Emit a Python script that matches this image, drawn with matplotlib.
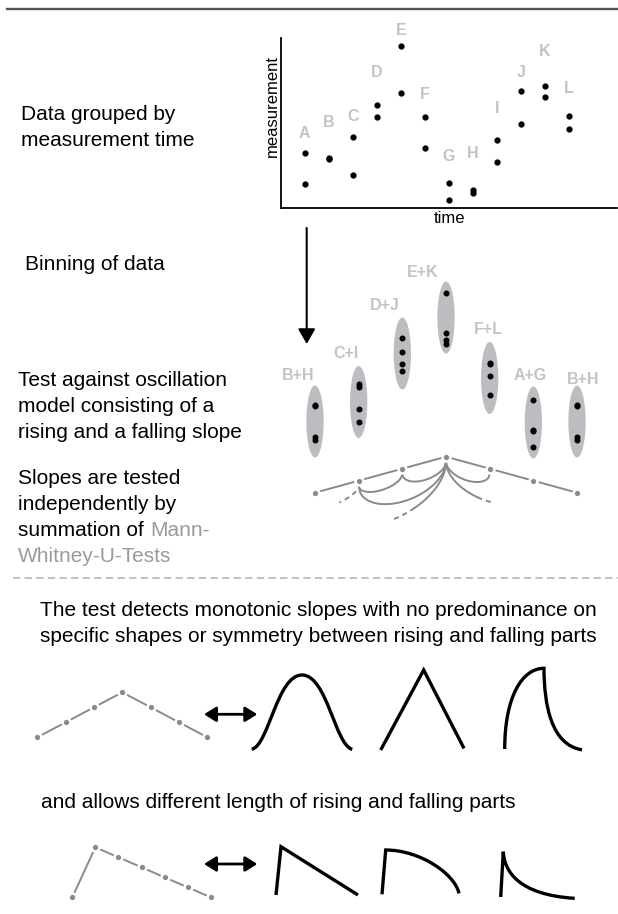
import numpy as np
import matplotlib
matplotlib.use('Agg')
from matplotlib import pyplot as plt
from matplotlib.patches import Ellipse, PathPatch
from matplotlib.path import Path

plt.rcParams['font.family'] = ['Liberation Sans', 'DejaVu Sans']

# ---- data -------------------------------------------------------------
times = ['A', 'B', 'C', 'D', 'E', 'F', 'G', 'H', 'I', 'J', 'K', 'L']
rep1 = [55, 50, 71, 103, 162, 91, 25, 18, 68, 117, 122, 92]
rep2 = [24, 49, 33, 91, 115, 60, 8, 15, 46, 84, 111, 79]
letter_y = [75, 86, 92, 136, 178, 114, 52, 55, 100, 136, 157, 120]

bin_names = ['B+H', 'C+I', 'D+J', 'E+K', 'F+L', 'A+G', 'B+H']
bin_pairs = [(1, 7), (2, 8), (3, 9), (4, 10), (5, 11), (0, 6), (1, 7)]
label_dx = [-17, -13, -18, -23, -1, -3, 6]      # px, label offset
label_dy = [10, 12, 12, 9, 13, 11.5, 6.5]

model_level = [0, 1, 2, 3, 2, 1, 0]
skew_level = [0, 5, 4, 3, 2, 1, 0]

# pairwise comparisons (from, to, sag px, pieces)
arcs = [
    (1, 2, 10.7, [(0, 1, '-')]),
    (2, 3, 12.5, [(0, 1, '-')]),
    (1, 3, 28, [(0, 1, '-')]),
    (3, 4, 13, [(0, 1, '-')]),
    (3, 0, 44, [(0, 0.24, '-'), (0.24, 0.42, '--')]),
    (3, 5, 28, [(0, 0.36, '-'), (0.36, 0.52, '--')]),
    (1, -1, 14, [(0.03, 0.22, '--')]),
]

# shapes (normalised 0..1 boxes)
shape_gauss = ([(0, 0), (0.17, 0.05), (0.25, 1), (0.5, 1), (0.75, 1), (0.83, 0.05), (1, 0)],
               [1, 4, 4, 4, 4, 4, 4])
shape_tri = ([(0, 0), (0.516, 1), (1, 0.02)], [1, 2, 2])
shape_fast = ([(0, 0), (0, 0.65), (0.228, 1), (0.508, 1), (0.51, 0.55), (0.6, 0.05), (1, -0.01)],
              [1, 4, 4, 4, 4, 4, 4])
shape_lin = ([(0, 0), (0.061, 1), (1, 0)], [1, 2, 2])
shape_round = ([(0, 0), (0.048, 1), (0.5, 1), (0.95, 0.45), (1, 0.02)], [1, 2, 4, 4, 4])
shape_decay = ([(0, 0), (0.035, 1), (0.05, 0.55), (0.25, 0.05), (1, -0.03)], [1, 2, 4, 4, 4])

W, H = 618, 914
gray_lab = '#c3c3c3'
gray_line = '#8a8a8a'
ell_col = '#bcbdc0'

fig = plt.figure(figsize=(W / 100, H / 100), dpi=100)
ax = fig.add_axes([0, 0, 1, 1])
ax.set_xlim(0, W)
ax.set_ylim(H, 0)
ax.axis('off')


def box_axes(x0, y0, x1, y1, xlim=(0, 1), ylim=(0, 1)):
    a = fig.add_axes([x0 / W, 1 - y1 / H, (x1 - x0) / W, (y1 - y0) / H])
    a.set_xlim(*xlim)
    a.set_ylim(*ylim)
    a.axis('off')
    return a


# top rule and separator
ax.plot([7, 618], [8.7, 8.7], color='#555555', lw=1.7)
ax.plot([13, 618], [578, 578], color='#b0b0b0', lw=1.1, dashes=(4.8, 2.8))

# left texts
txt = dict(fontsize=15, va='baseline', ha='left', color='black')
ax.text(20.7, 120.2, 'Data grouped by', **txt)
ax.text(20.7, 145.5, 'measurement time', **txt)
ax.text(25, 269.5, 'Binning of data', **txt)
ax.text(18.3, 385.7, 'Test against oscillation', **txt)
ax.text(18.3, 412.3, 'model consisting of a', **txt)
ax.text(18.3, 437.8, 'rising and a falling slope', **txt)
ax.text(18.3, 484, 'Slopes are tested', **txt)
ax.text(18.3, 510, 'independently by', **txt)
t = ax.text(18.3, 535.7, 'summation of', **txt)
ax.annotate('Mann-', xy=(1, 0), xycoords=t, xytext=(4.2, 0), textcoords='offset points',
            fontsize=15, va='bottom', ha='left', color='#9a9a9a')
ax.text(18.3, 562.3, 'Whitney-U-Tests', fontsize=15, va='baseline', ha='left', color='#9a9a9a')

ax.text(318.5, 616, 'The test detects monotonic slopes with no predominance on',
        fontsize=15, va='baseline', ha='center')
ax.text(318.5, 641.7, 'specific shapes or symmetry between rising and falling parts',
        fontsize=15, va='baseline', ha='center')
ax.text(41, 808.3, 'and allows different length of rising and falling parts', **txt)

# ---- scatter panel ----------------------------------------------------
axs = fig.add_axes([280.7 / W, 1 - 208.3 / H, (617 - 280.7) / W, (208.3 - 38.3) / H])
tpos = np.arange(1, len(times) + 1)
axs.set_xlim(0, 14)
axs.set_ylim(0, 170)
axs.plot(tpos, rep1, 'o', color='black', ms=3.5)
axs.plot(tpos, rep2, 'o', color='black', ms=3.5)
for x, lab, ly in zip(tpos, times, letter_y):
    axs.text(x, ly, lab, ha='center', va='center', fontsize=11.5, fontweight='bold', color=gray_lab)
for s in ['top', 'right']:
    axs.spines[s].set_visible(False)
for s in ['left', 'bottom']:
    axs.spines[s].set_linewidth(1.3)
axs.set_xticks([])
axs.set_yticks([])
axs.patch.set_alpha(0)
ax.text(276.5, 106, 'measurement', rotation=90, rotation_mode='anchor',
        ha='center', va='baseline', fontsize=12)
ax.text(450, 223.3, 'time', ha='center', va='baseline', fontsize=12)

# arrow down
ax.annotate('', xy=(306.7, 344), xytext=(306.7, 228),
            arrowprops=dict(arrowstyle='-|>,head_length=0.35,head_width=0.2',
                            mutation_scale=26, lw=1.5, color='black',
                            shrinkA=0, shrinkB=0))

# ---- binned panel -----------------------------------------------------
x_lo, x_hi = (270 - 315) / 43.67, (618 - 315) / 43.67
axb = box_axes(270, 250, 618, 530, (x_lo, x_hi), (-75, 205))
for i, (p, q) in enumerate(bin_pairs):
    vals = [rep1[p], rep2[p], rep1[q], rep2[q]]
    mid = (max(vals) + min(vals)) / 2 + 1
    axb.add_patch(Ellipse((i, mid), 17.3 / 43.67, 72, color=ell_col, lw=0))
    axb.plot([i] * 4, vals, 'o', color='black', ms=3.3, clip_on=False)
    axb.annotate(bin_names[i], xy=(i, mid + 36), xytext=(label_dx[i] * 0.72, label_dy[i] * 0.72),
                 textcoords='offset points', ha='center', va='center',
                 fontsize=11.5, fontweight='bold', color=gray_lab)

# model line with comparison arcs
axm = box_axes(270, 440, 618, 530, (x_lo, x_hi), ((492.7 - 530) / 12, (492.7 - 440) / 12))


def lev(i):
    return model_level[i] if 0 <= i < len(model_level) else -1


for i, j, sag, pieces in arcs:
    yi, yj = lev(i) - 5 / 12, lev(j) - 5 / 12
    for t0, t1, ls in pieces:
        tt = np.linspace(t0, t1, 60)
        xx = i + tt * (j - i)
        yy = yi + tt * (yj - yi) - sag / 12 * np.sqrt(np.clip(1 - (2 * tt - 1) ** 2, 0, None))
        kw = dict(dashes=(2.6, 2.1)) if ls == '--' else {}
        axm.plot(xx, yy, color=gray_line, lw=1.4, clip_on=False, **kw)

idx = np.arange(len(model_level))


def model_line(a, levels):
    a.plot(idx, levels, color=gray_line, lw=1.4, clip_on=False)
    a.plot(idx, levels, 'o', color='white', ms=7.5, mew=0, clip_on=False)
    a.plot(idx, levels, 'o', color=gray_line, ms=3.8, mew=0, clip_on=False)


model_line(axm, model_level)

# ---- shapes -----------------------------------------------------------
am1 = box_axes(37.3, 692.3, 207.3, 737.3, (0, 6), (0, 3))
model_line(am1, model_level)
am2 = box_axes(72.3, 847.3, 210.7, 897.3, (0, 6), (0, 5))
model_line(am2, skew_level)

for y in [714.3, 864]:
    ax.annotate('', xy=(257.3, y), xytext=(204, y),
                arrowprops=dict(arrowstyle='<|-|>,head_length=0.4,head_width=0.25',
                                mutation_scale=18, lw=2, color='black',
                                shrinkA=0, shrinkB=0))

shape_boxes = [
    (shape_gauss, (251.7, 675, 352.3, 749.3)),
    (shape_tri, (380.7, 670, 464, 750)),
    (shape_fast, (504.7, 668.3, 582, 749)),
    (shape_lin, (276, 846.7, 358, 895)),
    (shape_round, (382, 850, 459, 894.3)),
    (shape_decay, (500.7, 851.7, 574.7, 897)),
]
for (verts, codes), bx in shape_boxes:
    a = box_axes(*bx)
    a.add_patch(PathPatch(Path(verts, codes), fill=False, lw=2.4, edgecolor='black',
                          joinstyle='miter', capstyle='butt', clip_on=False))

fig.savefig('out.png', dpi=100)
